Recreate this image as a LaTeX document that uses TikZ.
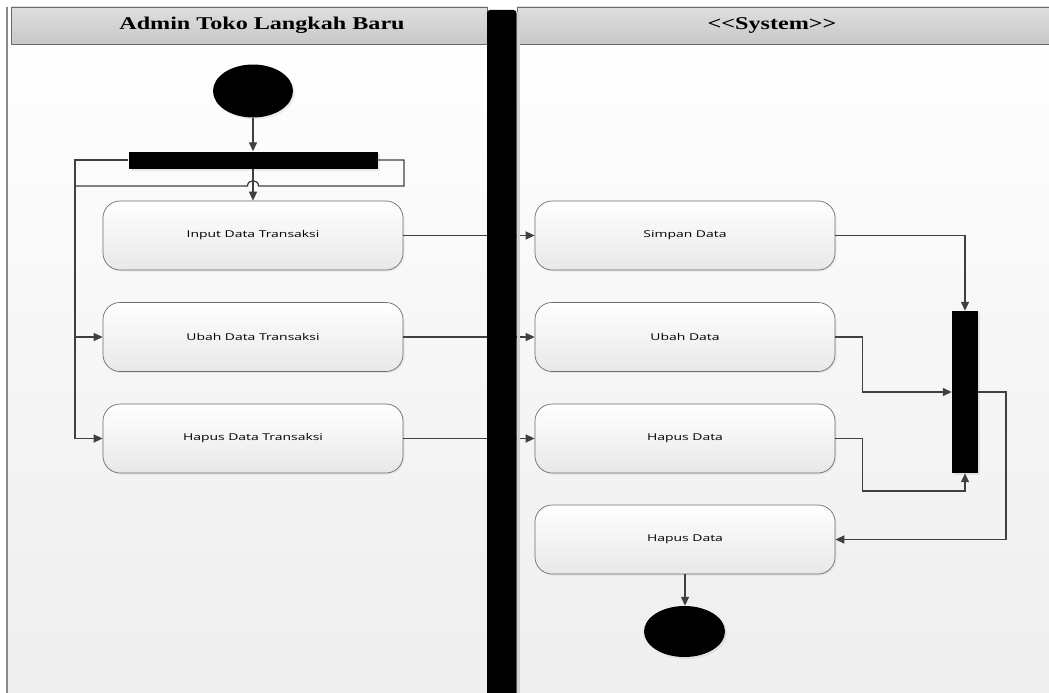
\documentclass[tikz,border=0pt]{standalone}
\usepackage{graphicx}
\usepackage{fontspec}
\setmainfont{Liberation Serif}
\newfontfamily\boxfont{Open Sans}
\usetikzlibrary{arrows.meta,shapes.geometric,shadows,calc}
\definecolor{linec}{HTML}{404040}
\definecolor{boxc}{HTML}{6E6E6E}
\definecolor{boxbot}{HTML}{E8E8E8}
\definecolor{bgbot}{HTML}{EEEEEE}
\definecolor{hdtop}{HTML}{DEDEDE}
\definecolor{hdbot}{HTML}{C8C8C8}
\definecolor{hdline}{HTML}{6A6A6A}
\definecolor{frame}{HTML}{8A8A8A}
\begin{document}
\begin{tikzpicture}[x=1pt,y=-1pt,
  actbox/.style={draw=boxc, line width=0.7pt, rounded corners=17pt,
    top color=white, bottom color=boxbot, minimum width=300pt,
    minimum height=69pt, inner sep=0pt,
    font=\boxfont\fontsize{9.4}{11}\selectfont,
    drop shadow={opacity=0.12, shadow xshift=1.5pt, shadow yshift=-1.5pt}},
  barnode/.style={fill=black, draw=none, inner sep=0pt,
    drop shadow={opacity=0.15, shadow xshift=2pt, shadow yshift=-2pt}},
  dotnode/.style={ellipse, fill=black, draw=none, inner sep=0pt,
    drop shadow={opacity=0.12, shadow xshift=2pt, shadow yshift=-2pt}},
  conn/.style={draw=linec, line width=1.3pt},
  arr/.style={conn, -{Triangle[length=9pt,width=8pt]}},
  lanehead/.style={font=\bfseries\fontsize{18}{20}\selectfont, inner sep=0pt}
]
\useasboundingbox (0,0) rectangle (1049,693);
% background and lanes
\shade[top color=white, bottom color=bgbot] (7,7) rectangle (1049,693);
\shade[top color=hdtop, bottom color=hdbot, draw=hdline, line width=0.8pt] (11,7) rectangle (487,44);
\shade[top color=hdtop, bottom color=hdbot, draw=hdline, line width=0.8pt] (517,7) rectangle (1049,44);
\draw[frame, line width=2pt] (7,7) -- (7,693);
\node[lanehead] (h1) at (262,25.5) {\scalebox{1.34}[1]{Admin Toko Langkah Baru}};
\node[lanehead] (h2) at (772,25.5) {\scalebox{1.34}[1]{<\kern0pt<System>\kern0pt>}};

% nodes
\node[dotnode, minimum width=80pt, minimum height=53pt] (start) at (253,91) {};
\node[barnode, minimum width=249pt, minimum height=17pt] (fork) at (253,160) {};
\node[actbox] (input) at (253,235.5) {\scalebox{1.48}[1]{Input Data Transaksi}};
\node[actbox] (ubahT) at (253,337) {\scalebox{1.48}[1]{Ubah Data Transaksi}};
\node[actbox] (hapusT) at (253,438.5) {\scalebox{1.48}[1]{Hapus Data Transaksi}};
\node[actbox] (simpan) at (685,235.5) {\scalebox{1.48}[1]{Simpan Data}};
\node[actbox] (ubahS) at (685,337) {\scalebox{1.48}[1]{Ubah Data}};
\node[actbox] (hapusS) at (685,438.5) {\scalebox{1.48}[1]{Hapus Data}};
\node[actbox] (hapus2) at (685,539.5) {\scalebox{1.48}[1]{Hapus Data}};
\node[barnode, minimum width=26pt, minimum height=162pt] (join) at (965,392) {};
\node[dotnode, minimum width=81pt, minimum height=51pt] (end) at (684.5,631.5) {};

\coordinate (lx) at (75,160);
\coordinate (rc) at (404,186);
\coordinate (hb) at (965,491);
\coordinate (jr) at (1006,392);

% connectors
\draw[arr] (start.south) -- (fork.north);
\draw[arr] (fork.south) -- (input.north);
\draw[arr] (fork.west) -- (lx) |- (hapusT.west);
\draw[arr] (lx|-ubahT.west) -- (ubahT.west);
\draw[conn] (fork.east) -| (rc) -- (258.5,186) .. controls (258.5,179) and (247.5,179) .. (247.5,186) -- (lx|-rc);
\draw[arr] (input.east) -- (simpan.west);
\draw[arr] (ubahT.east) -- (ubahS.west);
\draw[arr] (hapusT.east) -- (hapusS.west);
\draw[arr] (simpan.east) -| (join.north);
\draw[arr] (ubahS.east) -- ++(27,0) |- (join.west);
\draw[arr] (hapusS.east) -- ++(27,0) |- (hb) -- (join.south);
\draw[arr] (join.east) -- (jr) |- (hapus2.east);
\draw[arr] (hapus2.south) -- (hapus2.south|-end.north);

% lane divider
\fill[black!18] (517,12) rectangle (519.5,693);
\fill[black, rounded corners=3pt] (487,700) -- (487,10) -- (516.5,10) -- (516.5,700) -- cycle;
\end{tikzpicture}
\end{document}
